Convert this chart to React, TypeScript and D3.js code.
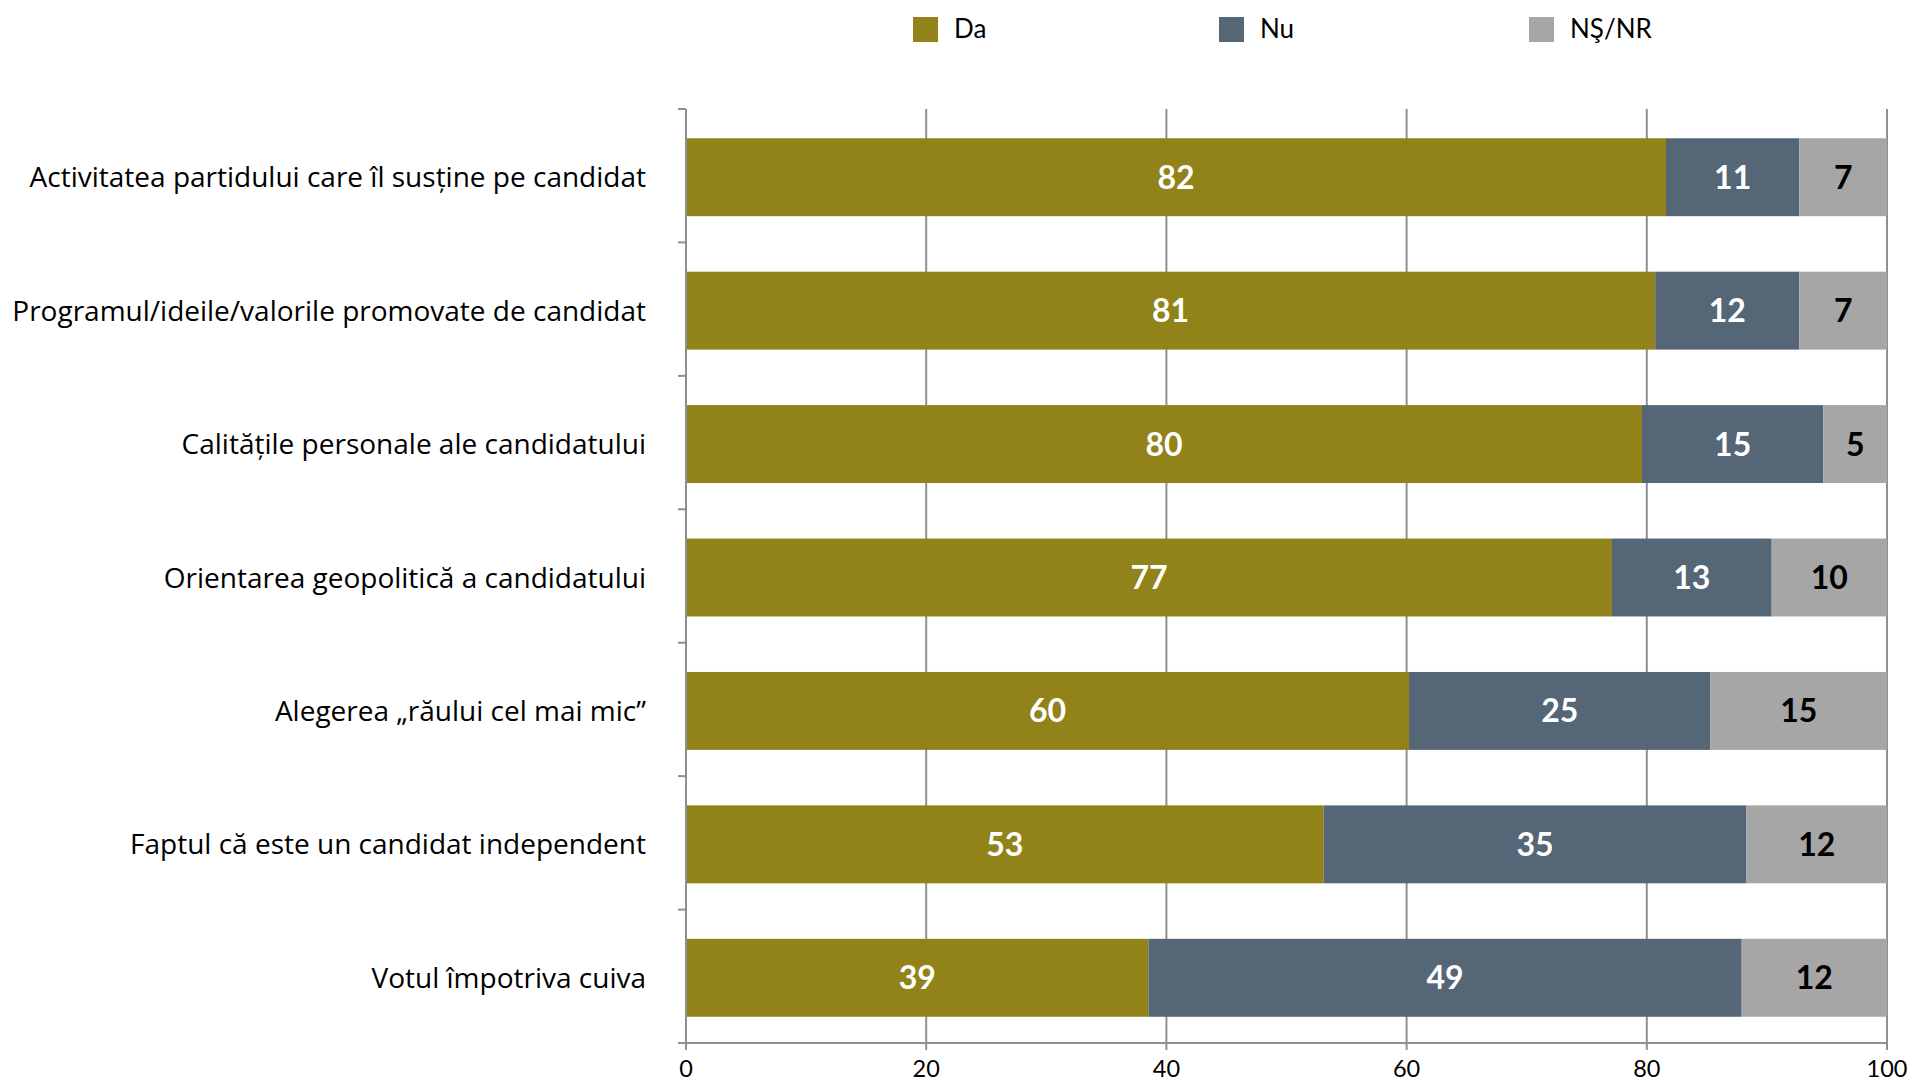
import React from "react";
import * as d3 from "d3";

const categories = [
  "Activitatea partidului care îl susține pe candidat",
  "Programul/ideile/valorile promovate de candidat",
  "Calitățile personale ale candidatului",
  "Orientarea geopolitică a candidatului",
  "Alegerea „răului cel mai mic”",
  "Faptul că este un candidat independent",
  "Votul împotriva cuiva",
];
const seriesNames = ["Da", "Nu", "NŞ/NR"];
const daValues = [81.6, 80.7, 79.6, 77.1, 60.2, 53.1, 38.5];
const nuValues = [11.1, 12.0, 15.1, 13.3, 25.1, 35.2, 49.4];
const nsValues = [7.3, 7.3, 5.3, 9.6, 14.7, 11.7, 12.1];
const xTicks = [0, 20, 40, 60, 80, 100];

const colors = ["#918319", "#556676", "#a6a6a6"];
const labelColors = ["#ffffff", "#ffffff", "#000000"];

const W = 1911;
const H = 1081;
const FONT = "Lato, 'Open Sans', sans-serif";
const CAT_FONT = "'Open Sans', 'Noto Sans', sans-serif";

export default function App() {
  const x = d3.scaleLinear().domain([0, 100]).range([686, 1887]);
  const y = d3
    .scaleBand<string>()
    .domain(categories)
    .range([109, 1043])
    .paddingInner(0.416)
    .paddingOuter(0.208);

  const rows = categories.map((c, i) => ({
    cat: c,
    Da: daValues[i],
    Nu: nuValues[i],
    "NŞ/NR": nsValues[i],
  }));
  const stack = d3.stack<any>().keys(seriesNames)(rows);

  const step = y.step();
  const y0 = y.range()[0];
  const catTicks = d3.range(categories.length + 1).map((k) => y0 + k * step);
  const yEnd = catTicks[catTicks.length - 1];
  const axisColor = "#8f8f8f";
  const barShift = 1.5;

  const legendX = [913, 1219, 1529];

  return (
    <svg
      width={W}
      height={H}
      style={{ position: "absolute", left: 0, top: 0, background: "#fff" }}
      fontFamily={FONT}
    >
      {/* legend */}
      {seriesNames.map((s, i) => (
        <g key={s}>
          <rect x={legendX[i]} y={17} width={25} height={25} fill={colors[i]} />
          <text x={legendX[i] + 41} y={38} fontSize={26} fill="#000">
            {s}
          </text>
        </g>
      ))}

      {/* gridlines */}
      {xTicks.slice(1).map((t) => (
        <line key={t} x1={x(t)} x2={x(t)} y1={y0} y2={yEnd} stroke={axisColor} strokeWidth={2} />
      ))}

      {/* bars */}
      {stack.map((layer, si) =>
        layer.map((d, i) => (
          <rect
            key={`${si}-${i}`}
            x={x(d[0])}
            y={y(categories[i])! + barShift}
            width={x(d[1]) - x(d[0])}
            height={y.bandwidth()}
            fill={colors[si]}
          />
        ))
      )}

      {/* value labels */}
      {stack.map((layer, si) =>
        layer.map((d, i) => (
          <text
            key={`l${si}-${i}`}
            x={(x(d[0]) + x(d[1])) / 2}
            y={y(categories[i])! + barShift + y.bandwidth() / 2}
            dy="0.36em"
            textAnchor="middle"
            fontSize={32}
            fontWeight="bold"
            fill={labelColors[si]}
          >
            {Math.round(d[1] - d[0])}
          </text>
        ))
      )}

      {/* y axis */}
      <line x1={x(0)} x2={x(0)} y1={y0} y2={yEnd} stroke={axisColor} strokeWidth={2} />
      {catTicks.map((t, k) => (
        <line key={k} x1={x(0) - 8} x2={x(0)} y1={t} y2={t} stroke={axisColor} strokeWidth={2} />
      ))}
      {categories.map((c) => (
        <text
          key={c}
          x={646}
          y={y(c)! + barShift + y.bandwidth() / 2}
          dy="0.36em"
          textAnchor="end"
          fontSize={28}
          fontFamily={CAT_FONT}
          fill="#000"
        >
          {c}
        </text>
      ))}

      {/* x axis */}
      <line x1={x(0) - 8} x2={x(100)} y1={yEnd} y2={yEnd} stroke={axisColor} strokeWidth={2} />
      {xTicks.map((t) => (
        <g key={t}>
          <line x1={x(t)} x2={x(t)} y1={yEnd} y2={yEnd + 7} stroke={axisColor} strokeWidth={2} />
          <text x={x(t)} y={1077} textAnchor="middle" fontSize={23.5} fill="#000">
            {t}
          </text>
        </g>
      ))}
    </svg>
  );
}
